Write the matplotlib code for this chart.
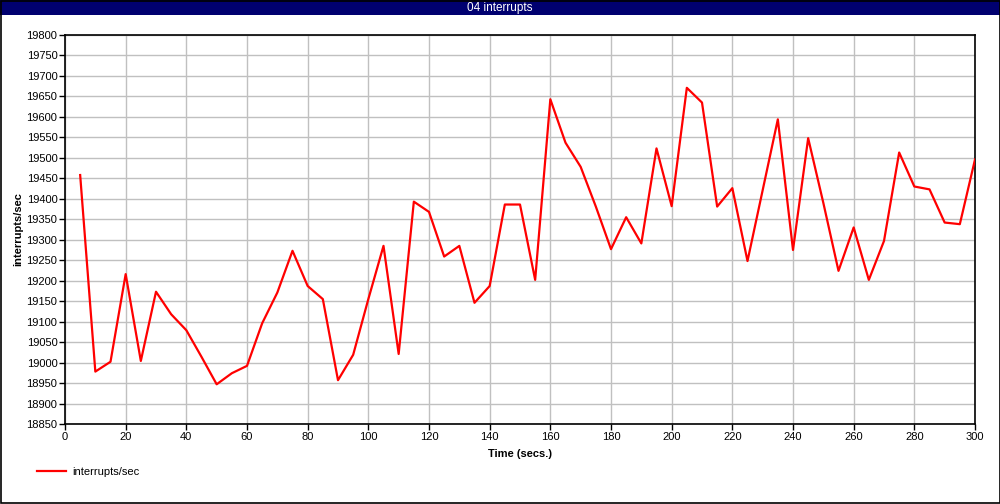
import matplotlib
matplotlib.use("Agg")
import matplotlib.pyplot as plt
from matplotlib.patches import Rectangle

plt.rcParams['font.family'] = ['Liberation Sans', 'DejaVu Sans']

title = "04 interrupts"
series_name = "interrupts/sec"
x_label = "Time (secs.)"
y_label = "interrupts/sec"

times = list(range(5, 301, 5))
values = [19458, 18978, 19002, 19216, 19004, 19173, 19118, 19079, 19014, 18947,
          18974, 18992, 19096, 19171, 19273, 19187, 19155, 18957, 19019, 19155,
          19285, 19021, 19393, 19368, 19259, 19285, 19146, 19187, 19386, 19386,
          19202, 19643, 19537, 19478, 19381, 19277, 19355, 19291, 19523, 19382,
          19671, 19635, 19381, 19426, 19248, 19421, 19594, 19275, 19548, 19390,
          19224, 19330, 19202, 19297, 19513, 19430, 19423, 19342, 19338, 19496]

x_ticks = list(range(0, 301, 20))
y_ticks = list(range(18850, 19801, 50))

W, H = 1000, 504
fig = plt.figure(figsize=(W / 100, H / 100), dpi=100)
fig.patch.set_facecolor('white')

# title bar
fig.patches.append(Rectangle((0, (H - 15) / H), 1, 15 / H, transform=fig.transFigure,
                             facecolor='#000070', edgecolor='none', zorder=0))
fig.text(0.5, (H - 7.5) / H, title, color='white', ha='center', va='center', fontsize=8.5)
# outer border
fig.patches.append(Rectangle((0.0005, 0.001), 0.999, 0.998, transform=fig.transFigure,
                             facecolor='none', edgecolor='black', linewidth=1.2, zorder=5))

ax = fig.add_axes([65 / W, (H - 424) / H, 910 / W, 389 / H])
ax.plot(times, values, color='#ff0000', linewidth=1.6, label=series_name, zorder=3)

ax.set_xlim(0, 300)
ax.set_ylim(18850, 19800)
ax.set_xticks(x_ticks)
ax.set_yticks(y_ticks)
ax.grid(True, color='#c0c0c0', linewidth=1.0)
ax.set_axisbelow(True)
for s in ax.spines.values():
    s.set_color('black')
    s.set_linewidth(1.2)
ax.tick_params(direction='out', length=4, width=1, labelsize=8, colors='black', pad=1.5)

ax.set_xlabel(x_label, fontsize=8, fontweight='bold', labelpad=5)
ax.set_ylabel(y_label, fontsize=8, fontweight='bold', labelpad=2)

ax.legend(loc='center left', bbox_to_anchor=(33 / W, (H - 472) / H), bbox_transform=fig.transFigure,
          frameon=False, fontsize=8, handlelength=2.6, handletextpad=0.5, borderaxespad=0)

fig.savefig('out.png', dpi=100)
